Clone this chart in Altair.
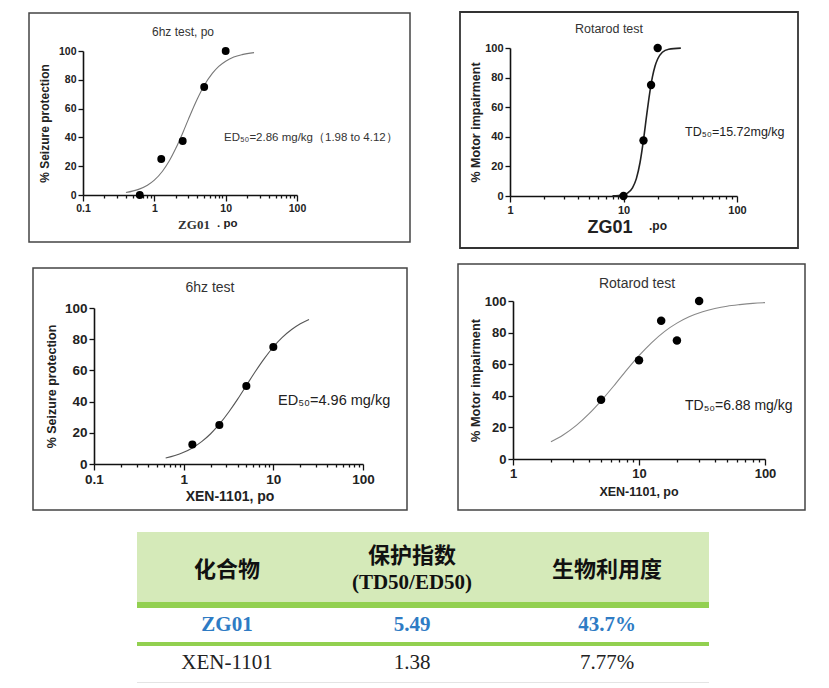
import json
import altair as alt
import pandas as pd

W, H = 829, 688
FONT = "Liberation Sans"
SERIF = "Liberation Serif"
CJK = "Noto Sans CJK SC"

# ---------------- data ----------------
# Panel 1: ZG01, 6 Hz test (po)
p1_dose = [0.625, 1.25, 2.5, 5, 10]
p1_resp = [0, 25, 37.5, 75, 100]
p1_fit_dose = [0.4, 0.6, 0.8, 1.0, 1.3, 1.6, 2.0, 2.5, 3.0, 4.0, 5.0, 6.5, 8.0, 10, 13, 17, 25]
p1_fit_resp = [1.7, 3.9, 6.8, 10.3, 16.5, 23.2, 32.4, 43.1, 52.5, 66.6, 76.0, 84.4, 89.3, 92.9, 95.8, 97.5, 98.9]

# Panel 2: ZG01, Rotarod test
p2_dose = [10, 15, 17.5, 20]
p2_resp = [0, 37.5, 75, 100]
p2_fit_dose = [8, 10, 11, 12, 13, 14, 15, 16, 17, 18, 19, 20, 22, 25, 32]
p2_fit_resp = [0.1, 0.9, 2.3, 5.5, 11.9, 22.8, 37.9, 54.6, 69.4, 80.6, 88.0, 92.6, 97.1, 99.2, 99.9]

# Panel 3: XEN-1101, 6 Hz test
p3_dose = [1.25, 2.5, 5, 10]
p3_resp = [12.5, 25, 50, 75]
p3_fit_dose = [0.63, 0.8, 1, 1.25, 1.6, 2, 2.5, 3.2, 4, 5, 6.3, 8, 10, 12.5, 16, 20, 25]
p3_fit_resp = [3.8, 5.4, 7.5, 10.3, 14.5, 19.4, 25.5, 33.5, 41.6, 50.3, 59.3, 67.9, 75.0, 81.0, 86.2, 89.9, 92.7]

# Panel 4: XEN-1101, Rotarod test
p4_dose = [5, 10, 15, 20, 30]
p4_resp = [37.5, 62.5, 87.5, 75, 100]
p4_fit_dose = [2, 2.5, 3.2, 4, 5, 6.3, 8, 10, 12.5, 16, 20, 25, 32, 40, 50, 63, 80, 100]
p4_fit_resp = [10.9, 15.2, 21.4, 28.5, 36.8, 46.2, 56.4, 65.4, 73.4, 80.8, 86.0, 90.0, 93.2, 95.2, 96.7, 97.7, 98.5, 98.95]

titles = ["6hz test, po", "Rotarod test", "6hz test", "Rotarod test"]
y_titles = ["% Seizure protection", "% Motor impairment", "% Seizure protection", "% Motor impairment"]
annotations = ["ED\u2085\u2080=2.86 mg/kg\uff081.98  to 4.12\uff09", "TD\u2085\u2080=15.72mg/kg",
               "ED\u2085\u2080=4.96 mg/kg", "TD\u2085\u2080=6.88 mg/kg"]

y_ticks = [0, 20, 40, 60, 80, 100]
x_ticks_01 = [0.1, 0.2, 0.3, 0.4, 0.5, 0.6, 0.7, 0.8, 0.9, 1, 2, 3, 4, 5, 6, 7, 8, 9,
              10, 20, 30, 40, 50, 60, 70, 80, 90, 100]
x_ticks_1 = [1, 2, 3, 4, 5, 6, 7, 8, 9, 10, 20, 30, 40, 50, 60, 70, 80, 90, 100]
x_major_01 = [0.1, 1, 10, 100]
x_major_1 = [1, 10, 100]

# table
tbl_header = ["化合物", "保护指数", "生物利用度"]
tbl_header_sub = "(TD50/ED50)"
compounds = ["ZG01", "XEN-1101"]
protect_index = ["5.49", "1.38"]
bioavail = ["43.7%", "7.77%"]


# ---------------- helpers ----------------
def txt(s, x, y, size, weight="normal", font=FONT, color="#333", align="center"):
    return alt.Chart(alt.Data(values=[{"t": s}])).mark_text(
        font=font, fontSize=size, fontWeight=weight, color=color, align=align, baseline="middle"
    ).encode(text="t:N", x=alt.value(x), y=alt.value(y))


def rect(x1, x2, y1, y2, fill=None, stroke=None, sw=1.5):
    kw = {}
    if fill:
        kw["fill"] = fill
    else:
        kw["fillOpacity"] = 0
    if stroke:
        kw["stroke"] = stroke
        kw["strokeWidth"] = sw
    return alt.Chart(alt.Data(values=[{}])).mark_rect(**kw).encode(
        x=alt.value(x1), x2=alt.value(x2), y=alt.value(y1), y2=alt.value(y2))


def panel(dose, resp, fdose, fresp, domain, xr, yr, ticks, majors, lab, ysize, ypad,
          ytitle, curve_color, curve_w, pt_size):
    test = "indexof(%s, datum.value) >= 0" % json.dumps(majors)
    X = alt.X("dose:Q",
              scale=alt.Scale(type="log", domain=domain, range=xr),
              axis=alt.Axis(orient="bottom", offset=yr[0] - H, values=ticks,
                            labelExpr=f"{test} ? '' + datum.value : ''",
                            tickSize={"condition": {"test": test, "value": 6}, "value": 3},
                            title=None, grid=False, domainColor="#111", domainWidth=1.6,
                            tickColor="#111", tickWidth=1.3, labelFont=FONT,
                            labelFontWeight="bold", labelFontSize=lab, labelColor="#222",
                            labelPadding=2, labelFlush=False, labelOverlap=False))
    Y = alt.Y("resp:Q",
              scale=alt.Scale(domain=[0, 100], range=yr),
              axis=alt.Axis(orient="left", offset=-xr[0], values=y_ticks, title=ytitle,
                            grid=False, domainColor="#111", domainWidth=1.6, tickColor="#111",
                            tickSize=5, tickWidth=1.3, labelFont=FONT, labelFontWeight="bold",
                            labelFontSize=lab, labelColor="#222", labelPadding=2,
                            titleFont=FONT, titleFontWeight="bold", titleFontSize=ysize,
                            titleColor="#222", titlePadding=ypad))
    fit = alt.Chart(pd.DataFrame({"dose": fdose, "resp": fresp})).mark_line(
        color=curve_color, strokeWidth=curve_w, interpolate="monotone").encode(x=X, y=Y)
    pts = alt.Chart(pd.DataFrame({"dose": dose, "resp": resp})).mark_circle(
        size=pt_size, color="#000", opacity=1).encode(x=X, y=Y)
    return alt.layer(fit, pts)


# ---------------- panels ----------------
boxes = alt.layer(
    rect(29, 410, 13, 242, stroke="#444"),
    rect(460, 798, 12, 248, stroke="#333", sw=1.8),
    rect(33, 407, 268, 510, stroke="#444"),
    rect(458, 805, 264, 510, stroke="#444"),
)

p1 = alt.layer(
    panel(p1_dose, p1_resp, p1_fit_dose, p1_fit_resp, [0.1, 100], [83, 297], [195, 51],
          x_ticks_01, x_major_01, 10.5, 12, 7, y_titles[0], "#777", 1.1, 62),
    txt(titles[0], 183, 32, 12),
    txt(annotations[0], 224, 138, 11.5, align="left"),
    txt("ZG01", 194, 225, 13, weight="bold", font=SERIF, color="#333"),
    txt(". po", 217, 224, 11.5, weight="bold", align="left", color="#222"),
)

p2 = alt.layer(
    panel(p2_dose, p2_resp, p2_fit_dose, p2_fit_resp, [1, 100], [510, 737], [196, 48],
          x_ticks_1, x_major_1, 11, 12.5, 2, y_titles[1], "#222", 1.6, 70),
    txt(titles[1], 609, 29, 12.5),
    txt(annotations[1], 685, 132, 12.5, align="left", color="#222"),
    txt("ZG01", 610, 228, 18, weight="bold", color="#222"),
    txt(".po", 649, 226, 12, weight="bold", align="left", color="#222"),
)

p3 = alt.layer(
    panel(p3_dose, p3_resp, p3_fit_dose, p3_fit_resp, [0.1, 100], [94, 363], [464, 308],
          x_ticks_01, x_major_01, 13.5, 12.5, 6, y_titles[2], "#555", 1.1, 65),
    txt(titles[2], 210, 288, 14),
    txt(annotations[2], 278, 401, 14.5, align="left", color="#222"),
    txt("XEN-1101, po", 230, 497, 14, weight="bold", color="#222"),
)

p4 = alt.layer(
    panel(p4_dose, p4_resp, p4_fit_dose, p4_fit_resp, [1, 100], [513, 765], [459, 301],
          x_ticks_1, x_major_1, 13, 12.8, 2, y_titles[3], "#888", 1.1, 72),
    txt(titles[3], 637, 284, 14),
    txt(annotations[3], 685, 406, 14, align="left", color="#222"),
    txt("XEN-1101, po", 639, 492, 12.5, weight="bold", color="#222"),
)

# ---------------- table ----------------
TX = alt.X("col:Q", scale=alt.Scale(domain=[0, 1, 2], range=[227, 412, 607]), axis=None)
hdr = pd.DataFrame({"col": [0, 1, 2], "t": tbl_header})
rows = []
for r, (c, p, b) in enumerate(zip(compounds, protect_index, bioavail)):
    for ci, v in enumerate([c, p, b]):
        rows.append({"row": r, "col": ci, "t": v})
rows = pd.DataFrame(rows)

head_main = alt.Chart(hdr).transform_filter("datum.col != 1").mark_text(
    font=CJK, fontSize=22, fontWeight="bold", color="#111", baseline="middle"
).encode(x=TX, y=alt.value(570), text="t:N")
head_mid = alt.Chart(hdr).transform_filter("datum.col == 1").mark_text(
    font=CJK, fontSize=22, fontWeight="bold", color="#111", baseline="middle"
).encode(x=TX, y=alt.value(556), text="t:N")
head_sub = alt.Chart(pd.DataFrame({"col": [1], "t": [tbl_header_sub]})).mark_text(
    font=SERIF, fontSize=21, fontWeight="bold", color="#111", baseline="middle"
).encode(x=TX, y=alt.value(583), text="t:N")
row1 = alt.Chart(rows).transform_filter("datum.row == 0").mark_text(
    font=SERIF, fontSize=21, fontWeight="bold", color="#2e7bc4", baseline="middle"
).encode(x=TX, y=alt.value(625), text="t:N")
row2 = alt.Chart(rows).transform_filter("datum.row == 1").mark_text(
    font=SERIF, fontSize=21, color="#222", baseline="middle"
).encode(x=TX, y=alt.value(663), text="t:N")

table = alt.layer(
    rect(137, 709, 532, 602, fill="#d5eab9"),
    rect(137, 709, 602, 608, fill="#92d050"),
    rect(137, 709, 642, 646, fill="#92d050"),
    rect(137, 709, 682, 683, fill="#e4e4e4"),
    head_main, head_mid, head_sub, row1, row2,
)

chart = alt.layer(boxes, p1, p2, p3, p4, table).resolve_scale(
    x="independent", y="independent"
).resolve_axis(x="independent", y="independent").properties(
    width=W, height=H, padding=0, autosize=alt.AutoSizeParams(type="none"),
    background="white"
).configure_view(stroke=None)

chart.save("out.html", embed_options={"renderer": "svg", "actions": False})
